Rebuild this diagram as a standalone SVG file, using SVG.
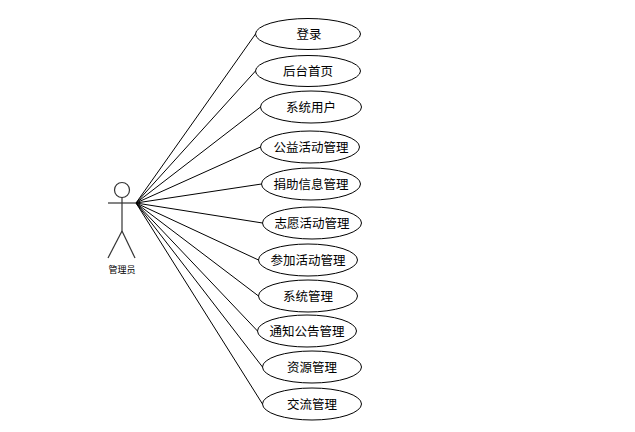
<svg xmlns="http://www.w3.org/2000/svg" width="635" height="432" viewBox="0 0 635 432">
<style>
.bg{fill:#fff}
.e{fill:#fff;stroke:#000;stroke-width:1}
.c line{stroke:#000;stroke-width:1;fill:none}
.a{stroke:#333;stroke-width:1.2;fill:none}
text{font-family:"Noto Sans CJK SC","Liberation Sans",sans-serif;font-size:12.500px;fill:#000;text-anchor:middle}
.s{font-size:9px}
</style>
<rect class="bg" width="635" height="432"/>
<g id="connectors" class="c">
<line x1="136" y1="203" x2="255.500" y2="34"/>
<line x1="136" y1="203" x2="255.500" y2="71"/>
<line x1="136" y1="203" x2="260.500" y2="107"/>
<line x1="136" y1="203" x2="260.500" y2="147"/>
<line x1="136" y1="203" x2="261.500" y2="184"/>
<line x1="136" y1="203" x2="262.500" y2="223"/>
<line x1="136" y1="203" x2="258.500" y2="260"/>
<line x1="136" y1="203" x2="258.500" y2="296"/>
<line x1="136" y1="203" x2="257.500" y2="331"/>
<line x1="136" y1="203" x2="262.500" y2="367"/>
<line x1="136" y1="203" x2="262.500" y2="404"/>
</g>
<g id="actor">
<circle class="a" cx="122" cy="190" r="7.500"/>
<line class="a" x1="122" y1="197.500" x2="122" y2="231"/>
<line class="a" x1="108" y1="203" x2="136" y2="203"/>
<line class="a" x1="122" y1="231" x2="108" y2="258"/>
<line class="a" x1="122" y1="231" x2="135" y2="258"/>
<text class="s" x="122" y="272.500">管理员</text>
</g>
<g id="n1"><ellipse class="e" cx="308" cy="34" rx="52.500" ry="15.500"/><text x="309" y="38.500">登录</text></g>
<g id="n2"><ellipse class="e" cx="308" cy="71" rx="52.500" ry="15.500"/><text x="308" y="75.500">后台首页</text></g>
<g id="n3"><ellipse class="e" cx="311" cy="107" rx="50.500" ry="16"/><text x="311" y="111.500">系统用户</text></g>
<g id="n4"><ellipse class="e" cx="310" cy="147" rx="49.500" ry="16"/><text x="311" y="151.500">公益活动管理</text></g>
<g id="n5"><ellipse class="e" cx="311" cy="184" rx="49.500" ry="16"/><text x="311" y="188.500">捐助信息管理</text></g>
<g id="n6"><ellipse class="e" cx="312" cy="223" rx="49.500" ry="16"/><text x="312" y="227.500">志愿活动管理</text></g>
<g id="n7"><ellipse class="e" cx="308" cy="260" rx="49.500" ry="16"/><text x="308" y="264.500">参加活动管理</text></g>
<g id="n8"><ellipse class="e" cx="308" cy="296" rx="49.500" ry="16"/><text x="308" y="300.500">系统管理</text></g>
<g id="n9"><ellipse class="e" cx="307" cy="331" rx="49.500" ry="16"/><text x="307" y="335.500">通知公告管理</text></g>
<g id="n10"><ellipse class="e" cx="312" cy="367" rx="49.500" ry="16"/><text x="312" y="371.500">资源管理</text></g>
<g id="n11"><ellipse class="e" cx="312" cy="404" rx="49.500" ry="16"/><text x="312" y="408.500">交流管理</text></g>
</svg>
